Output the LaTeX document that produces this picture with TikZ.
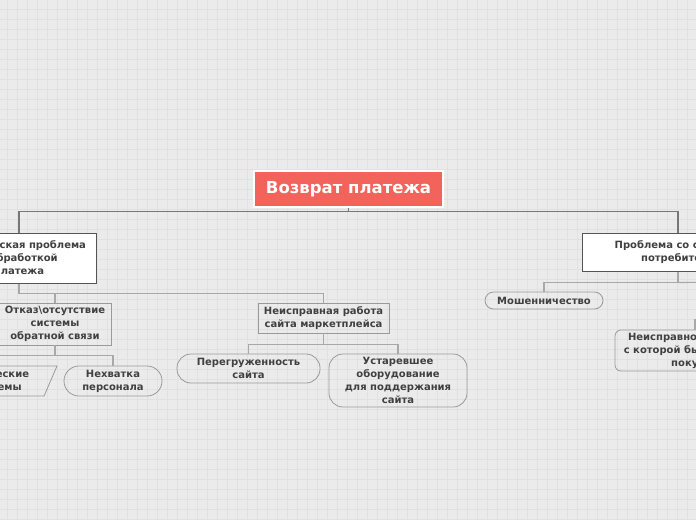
\documentclass[tikz,border=0pt]{standalone}
\usepackage{fontspec}
\setmainfont{DejaVu Sans}
\usetikzlibrary{shapes.geometric}
\definecolor{bg}{HTML}{EBEBEB}
\definecolor{gridc}{HTML}{E1E1E1}
\definecolor{rootc}{HTML}{F2645B}
\definecolor{txt}{HTML}{404040}
\definecolor{bordone}{HTML}{555555}
\definecolor{bordtwo}{HTML}{9A9A9A}
\definecolor{connone}{HTML}{777777}
\definecolor{conntwo}{HTML}{A8A8A8}
\begin{document}
\begin{tikzpicture}[x=1pt,y=-1pt,
  rootbox/.style={fill=rootc, draw=white, line width=1.2pt, text=white,
    font=\fontsize{16.5}{19}\selectfont\bfseries, minimum width=189pt, minimum height=36pt, inner sep=0pt},
  lvlone/.style={fill=white, draw=bordone, line width=1pt, text=txt,
    font=\fontsize{10}{13}\selectfont\bfseries, align=center, inner sep=0pt},
  lvltwo/.style={draw=bordtwo, line width=0.8pt, text=txt,
    font=\fontsize{10}{13}\selectfont\bfseries, align=center, inner sep=0pt},
  pill/.style={lvltwo, rounded corners=#1},
  connmain/.style={draw=connone, line width=1.6pt},
  connsub/.style={draw=conntwo, line width=1.1pt}
]
\useasboundingbox (0,0) rectangle (696,520);
\clip (0,0) rectangle (696,520);
\fill[bg] (0,0) rectangle (696,520);
\foreach \k in {0,...,69} {\draw[gridc, line width=0.7pt] (7.5+10*\k,0) -- (7.5+10*\k,520);}
\foreach \k in {0,...,51} {\draw[gridc, line width=0.7pt] (0,9.5+10*\k) -- (696,9.5+10*\k);}

% nodes
\node[rootbox] (root) at (348.5,189) {Возврат платежа};
\node[lvlone, minimum width=154pt, minimum height=50pt] (tech) at (19,258)
  {Техническая проблема\\с обработкой\\платежа};
\node[lvlone, minimum width=192pt, minimum height=38pt] (cons) at (678,252)
  {Проблема со стороны\\потребителя};

\node[lvltwo, minimum width=112pt, minimum height=42pt] (otkaz) at (55,324)
  {Отказ\textbackslash отсутствие\\системы\\обратной связи};
\node[lvltwo, minimum width=131pt, minimum height=30pt] (site) at (323.5,318)
  {Неисправная работа\\сайта маркетплейса};

\node[lvltwo, trapezium, trapezium left angle=60, trapezium right angle=120,
  trapezium stretches body, minimum width=130pt, minimum height=30pt] (techp) at (-8,381)
  {Технические\\проблемы};
\node[pill=15pt, minimum width=98pt, minimum height=30pt] (staff) at (113,381)
  {Нехватка\\персонала};

\node[pill=14pt, minimum width=143pt, minimum height=29pt] (overl) at (248.5,368.5)
  {Перегруженность\\сайта};
\node[pill=14pt, minimum width=138pt, minimum height=53pt] (old) at (398,380.5)
  {Устаревшее\\оборудование\\для поддержания\\сайта};

\node[pill=8.5pt, minimum width=118pt, minimum height=17pt] (fraud) at (544,300.5)
  {Мошенничество};
\node[pill=6pt, minimum width=160pt, minimum height=41pt] (faulty) at (695,350.5)
  {Неисправность товара,\\с которой была сделана\\покупка};
\coordinate (farj) at (760,320);
\coordinate (farc) at (760,282);

% connectors
\draw[connmain] (root.south) -- ++(0,4) coordinate (rj) -| (tech.north);
\draw[connmain] (rj) -| (cons.north);

\draw[connsub] (tech.south) -- ++(0,10) coordinate (tj) -| (otkaz.north);
\draw[connsub] (tj) -| (site.north);

\draw[connsub] (otkaz.south) -- ++(0,10) coordinate (oj) -| (techp.north);
\draw[connsub] (oj) -| (staff.north);

\draw[connsub] (site.south) -- ++(0,11) coordinate (sj) -| (overl.north);
\draw[connsub] (sj) -| (old.north);

\draw[connsub] (cons.south) -- ++(0,11) coordinate (cj) -| (fraud.north);
\draw[connsub] (cj) -- (farc);
\draw[connsub] (farj) -| (faulty.north);
\end{tikzpicture}
\end{document}
